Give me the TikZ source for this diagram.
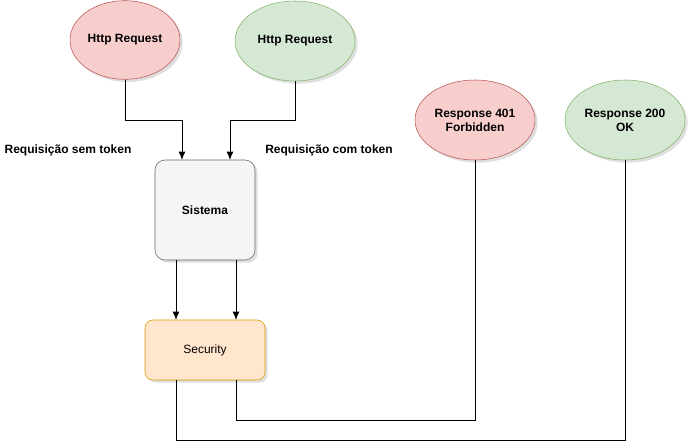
\documentclass[tikz,border=0pt]{standalone}
\usepackage{fontspec}
\setmainfont{Liberation Sans}
\usetikzlibrary{arrows.meta,shapes.geometric,shadows}
\definecolor{reqRed}{HTML}{F8CECC}
\definecolor{reqRedLine}{HTML}{B85450}
\definecolor{reqGreen}{HTML}{D5E8D4}
\definecolor{reqGreenLine}{HTML}{82B366}
\definecolor{sysGray}{HTML}{F5F5F5}
\definecolor{sysGrayLine}{HTML}{666666}
\definecolor{secOrange}{HTML}{FFE6CC}
\definecolor{secOrangeLine}{HTML}{D79B00}
\tikzset{
  soft shadow/.style={drop shadow={opacity=0.25,shadow xshift=2pt,shadow yshift=-2pt}},
  bubble red/.style={ellipse,draw=reqRedLine,fill=reqRed,soft shadow,align=center,font=\fontsize{9}{10.5}\selectfont\bfseries,inner sep=0pt},
  bubble green/.style={ellipse,draw=reqGreenLine,fill=reqGreen,soft shadow,align=center,font=\fontsize{9}{10.5}\selectfont\bfseries,inner sep=0pt},
  system box/.style={draw=sysGrayLine,fill=sysGray,rounded corners=7.5pt,soft shadow,minimum width=75pt,minimum height=75pt,font=\fontsize{9}{10.5}\selectfont\bfseries},
  security box/.style={draw=secOrangeLine,fill=secOrange,rounded corners=6pt,soft shadow,minimum width=90pt,minimum height=45pt,font=\fontsize{9}{10.5}\selectfont},
  flow label/.style={font=\fontsize{9}{10.5}\selectfont\bfseries},
  flow arrow/.style={-{Latex[length=6pt,width=5pt]},draw=black},
  flow line/.style={draw=black}
}
\begin{document}
\begin{tikzpicture}[x=0.75pt,y=-0.75pt]
  \useasboundingbox (0,0) rectangle (689,443);
  \node[bubble red,minimum width=82.5pt,minimum height=59pt] (reqNoToken) at (125,40) {Http Request};
  \node[bubble green,minimum width=90pt,minimum height=60pt] (reqToken) at (295,41) {Http Request};
  \node[system box] (sistema) at (205,210) {Sistema};
  \node[security box] (security) at (205,350) {Security};
  \node[bubble red,minimum width=90pt,minimum height=60pt] (resp401) at (475,120) {Response 401\\Forbidden};
  \node[bubble green,minimum width=90pt,minimum height=60pt] (resp200) at (625,120) {Response 200\\OK};
  \node[flow label] (lblNoToken) at (68,150) {Requisição sem token};
  \node[flow label] (lblToken) at (329,150) {Requisição com token};
  % requests into the system
  \draw[flow arrow] (reqNoToken.south) |- (182,120) -- (sistema.north -| 182,0);
  \draw[flow arrow] (reqToken.south) |- (230,120) -- (sistema.north -| 230,0);
  % system to security
  \draw[flow arrow] (sistema.south -| 176,0) -- (security.north -| 176,0);
  \draw[flow arrow] (sistema.south -| 236,0) -- (security.north -| 236,0);
  % security to the responses
  \draw[flow line] (security.south -| 236,0) |- (475,420) -- (resp401.south);
  \draw[flow line] (security.south -| 176,0) |- (625,440) -- (resp200.south);
\end{tikzpicture}
\end{document}
